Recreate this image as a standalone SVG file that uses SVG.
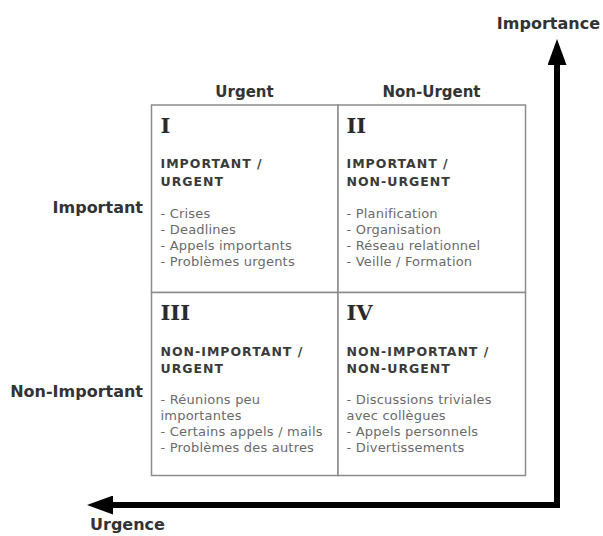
<svg xmlns="http://www.w3.org/2000/svg" width="603" height="536" viewBox="0 0 603 536">
<style>
.lbl{font-family:"DejaVu Sans",Verdana,sans-serif;font-weight:bold;font-size:16px;fill:#333}
.hdr{font-family:"DejaVu Sans",Verdana,sans-serif;font-weight:bold;font-size:15px;fill:#333}
.num{font-family:"DejaVu Serif",Georgia,serif;font-weight:bold;font-size:21px;fill:#2a2a2a}
.ttl{font-family:"DejaVu Sans",Verdana,sans-serif;font-weight:bold;font-size:12.5px;letter-spacing:1px;fill:#3a3a3a}
.itm{font-family:"DejaVu Sans",Verdana,sans-serif;font-size:13px;letter-spacing:0.2px;fill:#6a6a6a}
.cell{fill:#fff;stroke:#8c8c8c;stroke-width:1.5}
.axis{fill:none;stroke:#000;stroke-width:6;stroke-linejoin:miter}
</style>
<defs>
<marker id="ah" viewBox="0 0 26 19" refX="1" refY="9.5" markerWidth="26" markerHeight="19" markerUnits="userSpaceOnUse" orient="auto-start-reverse">
<path d="M0,0 L26,9.5 L0,19 z" fill="#000"/>
</marker>
</defs>
<rect width="603" height="536" fill="#fff"/>

<g id="connectors">
<path class="axis" d="M557,64 L557,505 L112,505" marker-start="url(#ah)" marker-end="url(#ah)"/>
</g>

<g id="axis-labels">
<text class="lbl" x="600" y="29" text-anchor="end">Importance</text>
<text class="lbl" x="90" y="530">Urgence</text>
<text class="hdr" x="244.5" y="97" text-anchor="middle">Urgent</text>
<text class="hdr" x="431.5" y="97" text-anchor="middle">Non-Urgent</text>
<text class="lbl" x="143" y="213" text-anchor="end">Important</text>
<text class="lbl" x="143" y="397" text-anchor="end">Non-Important</text>
</g>

<g id="q1">
<rect class="cell" x="151.5" y="105" width="186.5" height="187.5"/>
<text class="num" x="160.5" y="133">I</text>
<text class="ttl" x="160.5" y="168">IMPORTANT /</text>
<text class="ttl" x="160.5" y="186">URGENT</text>
<text class="itm" x="160.5" y="218">- Crises</text>
<text class="itm" x="160.5" y="234">- Deadlines</text>
<text class="itm" x="160.5" y="250">- Appels importants</text>
<text class="itm" x="160.5" y="266">- Problèmes urgents</text>
</g>

<g id="q2">
<rect class="cell" x="338" y="105" width="187.5" height="187.5"/>
<text class="num" x="346.5" y="133">II</text>
<text class="ttl" x="346.5" y="168">IMPORTANT /</text>
<text class="ttl" x="346.5" y="186">NON-URGENT</text>
<text class="itm" x="346.5" y="218">- Planification</text>
<text class="itm" x="346.5" y="234">- Organisation</text>
<text class="itm" x="346.5" y="250">- Réseau relationnel</text>
<text class="itm" x="346.5" y="266">- Veille / Formation</text>
</g>

<g id="q3">
<rect class="cell" x="151.5" y="292.5" width="186.5" height="183"/>
<text class="num" x="160.5" y="320">III</text>
<text class="ttl" x="160.5" y="356">NON-IMPORTANT /</text>
<text class="ttl" x="160.5" y="373">URGENT</text>
<text class="itm" x="160.5" y="404">- Réunions peu</text>
<text class="itm" x="160.5" y="420">importantes</text>
<text class="itm" x="160.5" y="436">- Certains appels / mails</text>
<text class="itm" x="160.5" y="452">- Problèmes des autres</text>
</g>

<g id="q4">
<rect class="cell" x="338" y="292.5" width="187.5" height="183"/>
<text class="num" x="346.5" y="320">IV</text>
<text class="ttl" x="346.5" y="356">NON-IMPORTANT /</text>
<text class="ttl" x="346.5" y="373">NON-URGENT</text>
<text class="itm" x="346.5" y="404">- Discussions triviales</text>
<text class="itm" x="346.5" y="420">avec collègues</text>
<text class="itm" x="346.5" y="436">- Appels personnels</text>
<text class="itm" x="346.5" y="452">- Divertissements</text>
</g>
</svg>
